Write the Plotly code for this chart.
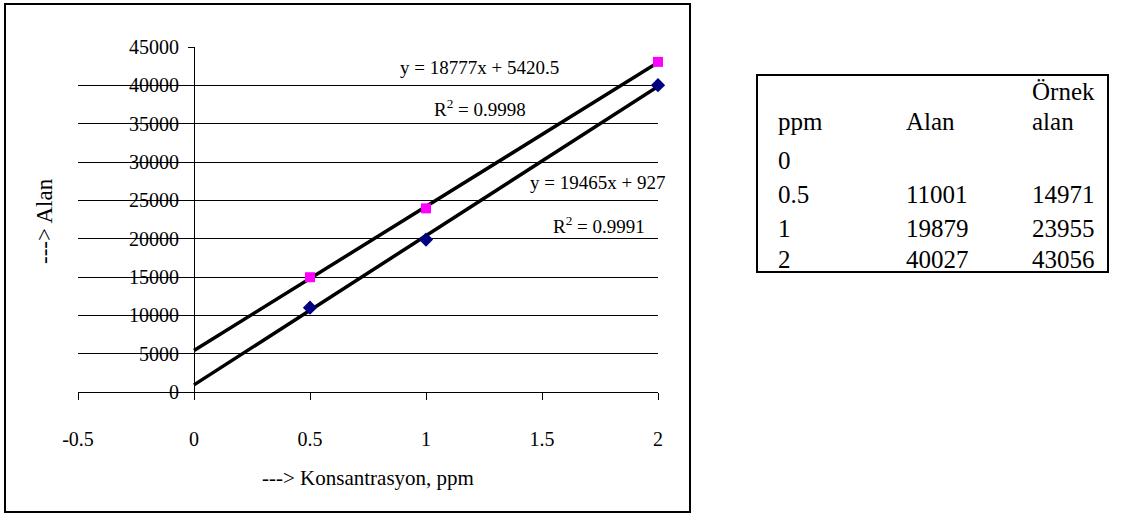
import numpy as np
import plotly.graph_objects as go

# ---------------- data ----------------
ppm = [0, 0.5, 1, 2]
alan = [None, 11001, 19879, 40027]
ornek_alan = [None, 14971, 23955, 43056]
series_names = ["Alan", "Örnek alan"]
eq_labels = ["y = 19465x + 927", "y = 18777x + 5420.5"]
r2_labels = ["R<sup>2</sup> = 0.9991", "R<sup>2</sup> = 0.9998"]
x_ticks = [-0.5, 0, 0.5, 1, 1.5, 2]
y_ticks = [0, 5000, 10000, 15000, 20000, 25000, 30000, 35000, 40000, 45000]
table_header = [["", "ppm"], ["", "Alan"], ["Örnek", "alan"]]

W, H = 1147, 525
FONT = "Liberation Serif"


def px(x):
    return x / W


def py(y):
    return 1 - y / H


fig = go.Figure()

# trend lines (least squares on the plotted points), from x=0 to x=2
for ys in (alan, ornek_alan):
    xs = [p for p, v in zip(ppm, ys) if v is not None]
    vs = [v for v in ys if v is not None]
    m, b = np.polyfit(xs, vs, 1)
    xl = [ppm[0], ppm[-1]]
    fig.add_trace(go.Scatter(x=xl, y=[m * v + b for v in xl], mode="lines",
                             line=dict(color="black", width=3.5),
                             showlegend=False, hoverinfo="skip", cliponaxis=False))

fig.add_trace(go.Scatter(x=ppm, y=alan, mode="markers", name=series_names[0],
                         marker=dict(symbol="diamond", size=11, color="#000080"),
                         cliponaxis=False, showlegend=False))
fig.add_trace(go.Scatter(x=ppm, y=ornek_alan, mode="markers", name=series_names[1],
                         marker=dict(symbol="square", size=10, color="#FF00FF"),
                         cliponaxis=False, showlegend=False))

# plot area in pixels: x 78..658, y 47..392
xdom = [px(78), px(658)]
ydom = [py(392), py(47)]

fig.update_layout(
    width=W, height=H,
    margin=dict(l=0, r=0, t=0, b=0, autoexpand=False),
    paper_bgcolor="white", plot_bgcolor="white",
    font=dict(family=FONT, color="black", size=20),
    xaxis=dict(domain=xdom, range=[-0.5, 2], tickvals=x_ticks,
               ticktext=[f"{v:g}" for v in x_ticks],
               showgrid=False, zeroline=True, zerolinecolor="black", zerolinewidth=1,
               showline=True, linecolor="black", linewidth=1,
               ticks="outside", ticklen=7, tickcolor="black", tickwidth=1,
               ticklabelstandoff=22, tickfont=dict(family=FONT, size=20)),
    yaxis=dict(domain=ydom, range=[0, 45000], tickvals=y_ticks,
               ticktext=[str(v) for v in y_ticks],
               anchor="free", position=px(194),
               showgrid=True, gridcolor="black", gridwidth=1,
               zeroline=False, showline=False,
               ticks="outside", ticklen=6, tickcolor="black", tickwidth=1,
               ticklabelstandoff=5, tickfont=dict(family=FONT, size=20)),
)

ann = []
# axis titles
ann.append(dict(text="---> Konsantrasyon, ppm", x=px(368), y=py(478), xref="paper", yref="paper",
                showarrow=False, font=dict(family=FONT, size=21), xanchor="center", yanchor="middle"))
ann.append(dict(text="---> Alan", x=px(44), y=py(221), xref="paper", yref="paper",
                showarrow=False, font=dict(family=FONT, size=23), textangle=-90,
                xanchor="center", yanchor="middle"))
# trendline equations
eq_pos = [((597, 183), (599, 225)), ((479, 68), (480, 108))]
for i in range(2):
    (ex, ey), (rx, ry) = eq_pos[i]
    ann.append(dict(text=eq_labels[i], x=px(ex), y=py(ey), xref="paper", yref="paper",
                    showarrow=False, font=dict(family=FONT, size=19), xanchor="center", yanchor="middle"))
    ann.append(dict(text=r2_labels[i], x=px(rx), y=py(ry), xref="paper", yref="paper",
                    showarrow=False, font=dict(family=FONT, size=19), xanchor="center", yanchor="middle"))

# data table beside the chart
col_x = [776, 904, 1030]
head_y = [92, 121]
row_y = [160, 194, 228, 259]
tf = dict(family=FONT, size=25)
for col, cx in zip(table_header, col_x):
    for txt, yy in zip(col, head_y):
        if txt:
            ann.append(dict(text=txt, x=px(cx), y=py(yy), xref="paper", yref="paper",
                            showarrow=False, font=tf, xanchor="left", yanchor="middle"))
for p, a, o, yy in zip(ppm, alan, ornek_alan, row_y):
    cells = [f"{p:g}", "" if a is None else str(a), "" if o is None else str(o)]
    for c, cx in zip(cells, col_x):
        if c:
            ann.append(dict(text=c, x=px(cx), y=py(yy), xref="paper", yref="paper",
                            showarrow=False, font=tf, xanchor="left", yanchor="middle"))
fig.update_layout(annotations=ann)

# chart border and table border
fig.add_shape(type="rect", xref="paper", yref="paper", x0=px(5), x1=px(690), y0=py(512), y1=py(4),
              line=dict(color="black", width=2), layer="below")
fig.add_shape(type="rect", xref="paper", yref="paper", x0=px(757), x1=px(1108), y0=py(272), y1=py(75),
              line=dict(color="black", width=2), layer="below")

fig.write_html("out.html", config={"displayModeBar": False},
               post_script="document.body.style.margin='0';")
